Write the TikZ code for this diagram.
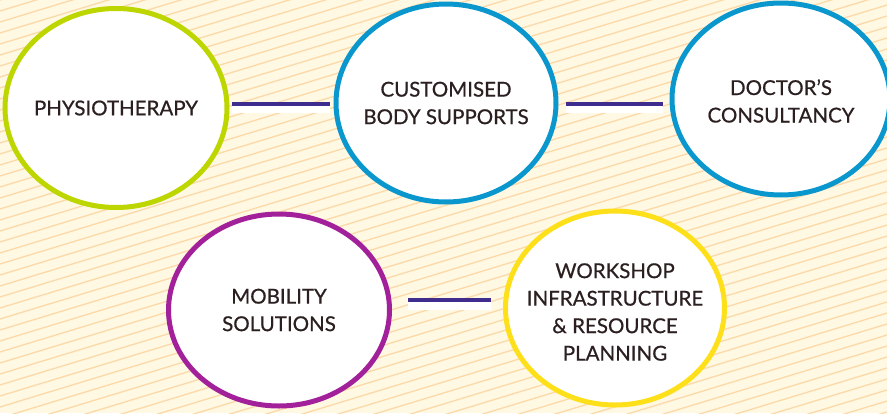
\documentclass[tikz,border=0pt]{standalone}
\usepackage{fontspec}
\setmainfont{Lato}
\newfontfamily\lblfont{Lato}[FakeBold=0.6]
\usetikzlibrary{shapes.geometric}
\definecolor{bgcream}{HTML}{FFF8E3}
\definecolor{stripe}{HTML}{FCD9A8}
\definecolor{ringgreen}{HTML}{BDD600}
\definecolor{ringblue}{HTML}{0A97CE}
\definecolor{ringpurple}{HTML}{A3209B}
\definecolor{ringyellow}{HTML}{FDE01A}
\definecolor{linkpurple}{HTML}{3E2C8F}
\definecolor{txt}{HTML}{2B1F1F}
\tikzset{
  bubble/.style={ellipse, draw, line width=5pt, fill=white, inner sep=0pt},
  bubbletext/.style={align=center, text=txt, inner sep=0pt,
    font=\lblfont\fontsize{20.5}{27.5}\selectfont},
  link/.style={draw=linkpurple, line width=3.5pt},
  linkshade/.style={fill=white, draw=none}
}
\begin{document}
\begin{tikzpicture}[x=1pt,y=-1pt]
\useasboundingbox (0,0) rectangle (887,413);
\fill[bgcream] (0,0) rectangle (887,413);
\begin{scope}
\clip (0,0) rectangle (887,413);
\foreach \i in {0,...,70}{
  \draw[stripe, line width=1.3pt] (0,\i*11) -- (887,\i*11-270);
}
\end{scope}
% white shadows under connectors
\fill[linkshade] (232,106) rectangle (330,113);
\fill[linkshade] (566,106) rectangle (663,113);
\fill[linkshade] (408,302) rectangle (491,310);
% circles
\node[bubble, draw=ringgreen, minimum width=222pt, minimum height=199pt,
  label={[bubbletext]center:PHYSIOTHERAPY}] (physio) at (116,108) {};
\node[bubble, draw=ringblue, minimum width=220pt, minimum height=198pt,
  label={[bubbletext]center:CUSTOMISED\\BODY SUPPORTS}] (custom) at (446,103) {};
\node[bubble, draw=ringblue, minimum width=218pt, minimum height=192pt,
  label={[bubbletext, yshift=-2pt]center:DOCTOR’S\\CONSULTANCY}] (doctor) at (781,99) {};
\node[bubble, draw=ringpurple, minimum width=221pt, minimum height=192pt,
  label={[bubbletext]center:MOBILITY\\SOLUTIONS}] (mobility) at (279,310) {};
\node[bubble, draw=ringyellow, minimum width=219pt, minimum height=194pt,
  label={[bubbletext, yshift=-4pt]center:WORKSHOP\\INFRASTRUCTURE\\\&\ RESOURCE\\PLANNING}] (workshop) at (615,308) {};
% connectors
\coordinate (a1) at (232,104);
\coordinate (a2) at (330,104);
\coordinate (b1) at (566,104);
\coordinate (b2) at (663,104);
\coordinate (c1) at (408,300);
\coordinate (c2) at (491,300);
\draw[link] (a1) -- (a2);
\draw[link] (b1) -- (b2);
\draw[link] (c1) -- (c2);
\end{tikzpicture}
\end{document}
